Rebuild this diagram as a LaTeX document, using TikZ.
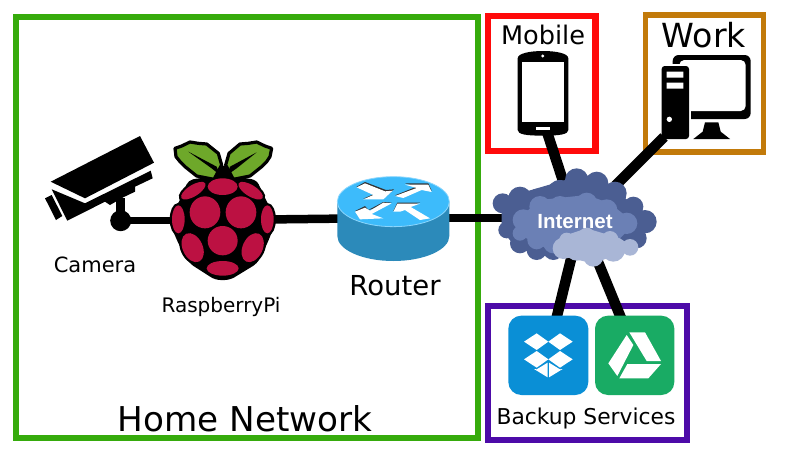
\documentclass[tikz,border=0pt]{standalone}
\usepackage{fontspec}
\setmainfont{DejaVu Sans}
\newfontfamily\netfont{Liberation Sans}
\tikzset{
  frame/.style={draw=#1,line width=6.3pt,fill=none},
  link/.style={draw=black,line width=8.5pt},
  slant/.style={draw=black,line width=10.5pt},
  label/.style={inner sep=0pt,text=black},
}
\definecolor{gframe}{HTML}{36AB0C}
\definecolor{rframe}{HTML}{FF0A0A}
\definecolor{oframe}{HTML}{C27A0A}
\definecolor{pframe}{HTML}{4D0BA8}
\definecolor{berry}{HTML}{BC1142}
\definecolor{leaf}{HTML}{6EA82A}
\definecolor{rtop}{HTML}{3DBBFB}
\definecolor{rbody}{HTML}{2C8ABA}
\definecolor{cdark}{HTML}{4B5E92}
\definecolor{cmid}{HTML}{6B80B5}
\definecolor{clight}{HTML}{A9B6D6}
\definecolor{dbox}{HTML}{0A8FD6}
\definecolor{gdrive}{HTML}{19AB64}
\newcommand\fs[1]{\fontsize{#1}{#1}\selectfont}
\newcommand\myoval[6]{\path[#6,rotate around={#5:(#1,#2)}] (#1,#2) ellipse (#3 and #4);}
\newcommand\berries[1]{%
  \myoval{578}{200}{45}{25}{0}{#1}
  \myoval{490}{212}{42}{17}{32}{#1}
  \myoval{662}{212}{42}{17}{-32}{#1}
  \myoval{525}{277}{46}{48}{0}{#1}
  \myoval{633}{277}{46}{48}{0}{#1}
  \myoval{445}{298}{19}{42}{0}{#1}
  \myoval{712}{298}{19}{42}{0}{#1}
  \myoval{578}{362}{45}{44}{0}{#1}
  \myoval{488}{383}{30}{46}{25}{#1}
  \myoval{668}{383}{30}{46}{-25}{#1}
  \myoval{578}{445}{48}{22}{0}{#1}}
\begin{document}
\begin{tikzpicture}[x=1pt,y=-1pt]
\useasboundingbox (0,0) rectangle (800,450);
\fill[white] (0,0) rectangle (800,450);
% frames
\draw[frame=gframe] (16,17) rectangle (478,438);
\draw[frame=rframe] (488,16) rectangle (595.5,151);
\draw[frame=oframe,line width=5.5pt] (645.5,15) rectangle (763.5,152);
\draw[frame=pframe] (488,306) rectangle (687,440);
% connection points
\coordinate (camera) at (120.5,220);
\coordinate (pi) at (222,220);
\coordinate (router) at (393,218);
\coordinate (internet) at (530,218);
\coordinate (netM) at (566,190);
\coordinate (netW) at (615,186);
\coordinate (netD) at (572,255);
\coordinate (netG) at (598,262);
\coordinate (mobile) at (547,132);
\coordinate (work) at (664,137);
\coordinate (dropbox) at (556,320);
\coordinate (drive) at (621,318);
% connectors
\draw[link,line width=7pt] (camera) -- (pi);
\draw[link] (pi) -- (router);
\draw[link] (router) -- (internet);
\draw[slant] (netM) -- (mobile);
\draw[slant] (netW) -- (work);
\draw[slant] (netD) -- (dropbox);
\draw[slant] (netG) -- (drive);
% camera
\fill[black] (50.7,181.7) -- (140,136) -- (154,162.7) -- (85,198.3) -- cycle;
\fill[black] (51.7,189.3) -- (85,203.3) -- (150.7,170.7) -- (152.7,178.3) -- (135,186.7) -- (135,191.7) -- (123.3,197.3) -- (110,205) -- (105,201.7) -- (67.3,220.7) -- cycle;
\fill[black] (45,198.3) -- (51.7,195) -- (62.3,216) -- (56,220) -- cycle;
\fill[black] (116,198) rectangle (125,216);
\fill[black] (120.7,220.7) circle (10.5);
% raspberry
\begin{scope}[shift={(30,120)},scale=1/3]
  \fill[black,rounded corners=5pt] (578,130) -- (620,170) -- (680,180) -- (708,240) -- (740,300) -- (712,370) -- (682,430) -- (600,480) -- (556,480) -- (478,430) -- (445,370) -- (415,300) -- (450,240) -- (475,180) -- (540,170) -- cycle;
  \berries{draw=black,line width=4.5pt,fill=black}
  \path[fill=leaf,draw=black,line width=3.2pt,line join=round] (435,85) -- (455,78) -- (480,66) -- (505,70) -- (530,72) -- (565,100) -- (575,135) -- (552,178) -- (500,168) -- (465,140) -- (450,125) -- (438,110) -- cycle;
  \path[fill=leaf,draw=black,line width=3.2pt,line join=round] (725,85) -- (705,78) -- (680,66) -- (655,70) -- (630,72) -- (597,100) -- (587,135) -- (610,178) -- (660,168) -- (695,140) -- (710,125) -- (720,110) -- cycle;
  \fill[black] (475,95) -- (560,140) -- (570,165) -- (545,145) -- cycle;
  \fill[black] (680,97) -- (600,140) -- (592,165) -- (620,145) -- cycle;
  \berries{fill=berry}
\end{scope}
% router
\begin{scope}[shift={(320,160)},scale=1/3]
  \fill[rbody] (52,125) -- (52,228) arc[start angle=180,end angle=0,x radius=168,y radius=75] -- (388,125) -- cycle;
  \path[fill=rtop,draw=rtop!60!white,line width=.8pt] (220,125) ellipse (168 and 75);
  \fill[black!80] (110,80) -- (135,66) -- (198,90) -- (222,88) -- (190,116) -- (130,116) -- (160,103) -- cycle;
  \fill[white] (110,82) -- (135,70) -- (195,94) -- (218,92) -- (190,118) -- (130,118) -- (160,105) -- cycle;
  \fill[black!80] (225,106) -- (290,80) -- (255,70) -- (325,70) -- (335,92) -- (300,88) -- (250,112) -- cycle;
  \fill[white] (225,108) -- (290,84) -- (255,74) -- (325,74) -- (335,96) -- (305,90) -- (250,114) -- cycle;
  \fill[black!80] (215,128) -- (190,126) -- (145,150) -- (135,138) -- (105,153) -- (115,160) -- cycle;
  \fill[white] (215,130) -- (190,128) -- (150,152) -- (135,143) -- (105,155) -- (120,178) -- (190,175) -- (155,162) -- cycle;
  \fill[black!80] (220,153) -- (232,128) -- (300,128) -- (272,138) -- cycle;
  \fill[white] (330,175) -- (300,180) -- (255,150) -- (240,155) -- (220,155) -- (232,131) -- (300,131) -- (272,141) -- cycle;
\end{scope}
% cloud
\begin{scope}[shift={(320,160)},scale=1/3]
  \fill[cdark] (548,130) circle (30) (600,115) circle (35) (655,120) circle (35) (720,100) circle (40) (770,60) circle (35) (830,70) circle (35) (885,100) circle (35) (940,140) circle (30) (975,185) circle (35) (950,235) circle (30) (560,210) circle (25) (600,250) circle (30) (650,270) circle (30) (700,270) circle (30);
  \fill[cdark] (545,140) -- (600,100) -- (770,50) -- (890,90) -- (975,170) -- (960,240) -- (700,295) -- (590,265) -- (545,210) -- cycle;
  \fill[cmid] (610,180) circle (32) (660,140) circle (32) (720,140) circle (32) (800,130) circle (32) (860,150) circle (32) (920,190) circle (32) (600,220) circle (22) (650,240) circle (28) (700,250) circle (30);
  \fill[cmid] (590,180) -- (660,120) -- (800,105) -- (870,130) -- (945,190) -- (900,235) -- (700,275) -- (600,225) -- cycle;
  \fill[clight] (730,265) circle (32) (770,270) circle (32) (820,290) circle (30) (880,270) circle (35) (930,262) circle (25) (740,240) circle (22) (800,228) circle (25) (870,238) circle (25);
  \fill[clight] (710,265) -- (740,225) -- (800,205) -- (900,235) -- (945,265) -- (820,310) -- (730,290) -- cycle;
\end{scope}
\node[label,text=white] (netlabel) at (575,222) {\netfont\bfseries\fs{20.5}Internet};
% phone
\begin{scope}[shift={(480,5)},scale=1/3]
  \fill[black] (113,160) .. controls (113,145) and (150,138) .. (189,138) .. controls (228,138) and (265,145) .. (265,160) -- (265,375) .. controls (265,388) and (240,392) .. (189,392) .. controls (138,392) and (113,388) .. (113,375) -- cycle;
  \fill[white] (125,170) rectangle (253,352);
  \fill[white] (188,153) circle (5);
  \fill[white] (168,365) rectangle (210,374);
\end{scope}
% computer
\begin{scope}[shift={(480,5)},scale=1/3]
  \fill[black,rounded corners=6pt] (578,150) rectangle (812,342);
  \fill[white,rounded corners=5pt] (598,165) rectangle (797,318);
  \fill[black] (675,352) -- (715,352) -- (722,380) -- (750,402) -- (640,402) -- (668,380) -- cycle;
  \fill[white] (538,176) rectangle (634,345);
  \fill[black,rounded corners=3pt] (545,183) rectangle (627,402);
  \fill[white] (560,200) rectangle (610,218) (560,233) rectangle (610,251);
  \fill[white] (568,343) circle (8);
\end{scope}
% backup icons
\begin{scope}[shift={(480,300)},scale=1/3]
  \fill[dbox,rounded corners=13pt] (85,47) rectangle (325,285);
  \fill[gdrive,rounded corners=13pt] (345,47) rectangle (583,285);
  \fill[white] (132,125) -- (170,100) -- (205,125) -- (170,150) -- cycle;
  \fill[white] (205,125) -- (240,100) -- (278,125) -- (240,150) -- cycle;
  \fill[white] (132,178) -- (170,153) -- (205,178) -- (170,203) -- cycle;
  \fill[white] (205,178) -- (240,153) -- (278,178) -- (240,203) -- cycle;
  \fill[white] (162,207) -- (170,208) -- (203,188) -- (203,232) -- cycle;
  \fill[white] (248,207) -- (240,208) -- (207,188) -- (207,232) -- cycle;
  \fill[white] (440,105) -- (460,135) -- (412,228) -- (385,190) -- cycle;
  \fill[white] (448,97) -- (495,97) -- (543,183) -- (500,183) -- cycle;
  \fill[white] (442,192) -- (543,192) -- (505,235) -- (418,235) -- cycle;
\end{scope}
% labels
\node[label] (lcam) at (95,265) {\fs{21}Camera};
\node[label] (lpi) at (221,307) {\fs{20}RaspberryPi};
\node[label] (lrouter) at (395,286) {\fs{27.5}Router};
\node[label] (lhome) at (245,419) {\fs{34.2}Home Network};
\node[label] (lmobile) at (543,35) {\fs{25.6}Mobile};
\node[label] (lwork) at (704,35) {\fs{33.2}Work};
\node[label] (lbackup) at (586,418) {\fs{21.8}Backup Services};
\end{tikzpicture}
\end{document}
